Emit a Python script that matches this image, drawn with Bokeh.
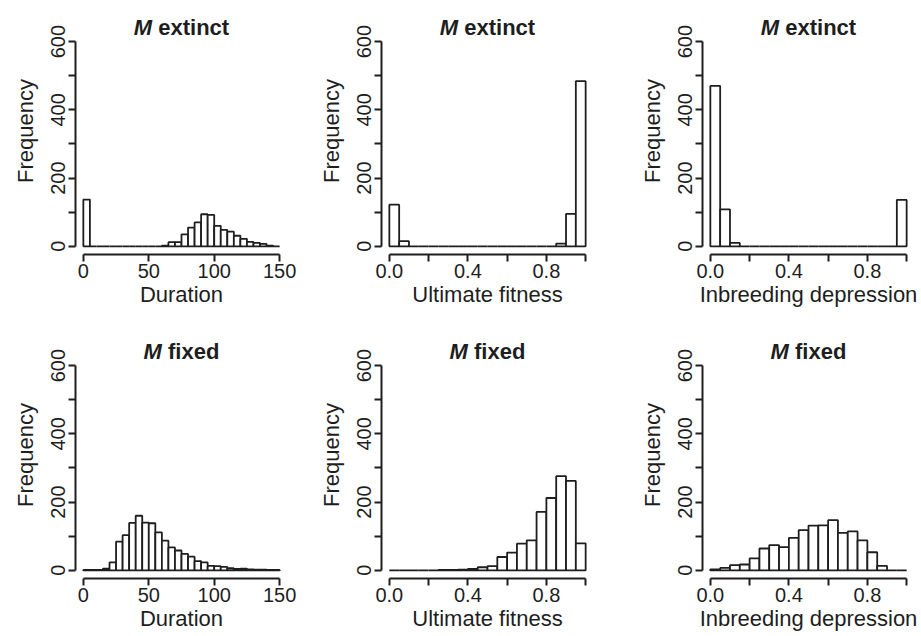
from bokeh.plotting import figure
from bokeh.models import Range1d, FixedTicker, Label
from bokeh.layouts import row, column
from bokeh.embed import file_html
from bokeh.resources import INLINE

# ---------------- data ----------------
dur_edges = [5 * i for i in range(31)]          # 0..150, bins of 5
frac_edges = [0.05 * i for i in range(21)]      # 0..1, bins of 0.05

dur_extinct = [137, 0, 0, 0, 0, 0, 0, 0, 0, 0, 0, 0, 2, 12, 12, 35, 55, 70,
               94, 92, 60, 48, 43, 31, 22, 13, 10, 7, 2, 0]
fit_extinct = [122, 15, 0, 0, 0, 0, 0, 0, 0, 0, 0, 0, 0, 0, 0, 0, 0, 8, 95, 484]
ib_extinct = [470, 108, 10, 0, 0, 0, 0, 0, 0, 0, 0, 0, 0, 0, 0, 0, 0, 0, 0, 136]

dur_fixed = [1, 1, 1, 5, 23, 84, 103, 139, 160, 140, 138, 111, 87, 67, 58, 48,
             40, 27, 23, 13, 12, 10, 6, 4, 5, 3, 2, 2, 1, 1]
fit_fixed = [0, 0, 0, 0, 0, 1, 1, 2, 4, 9, 12, 39, 52, 78, 88, 171, 212, 276, 262, 79]
ib_fixed = [3, 7, 15, 17, 35, 64, 74, 68, 95, 118, 131, 132, 147, 110, 114, 88, 53, 13, 0, 0]

y_ticks = [0, 100, 200, 300, 400, 500, 600]
y_labels = {100: "", 300: "", 500: ""}
dur_ticks = [0, 50, 100, 150]
frac_ticks = [0, 0.2, 0.4, 0.6, 0.8, 1]
frac_labels = {0: "0.0", 0.2: "", 0.4: "0.4", 0.6: "", 0.8: "0.8", 1: ""}

INK = "#1e1e1e"
FONT = "Liberation Sans"


def panel(counts, edges, xmax, xticks, xoverrides, xlabel, word, L, R, T, B):
    # frame extends above the data region to hold the two-style title
    p = figure(frame_width=212, frame_height=247,
               x_range=Range1d(-0.04 * xmax, 1.04 * xmax),
               y_range=Range1d(-24, 700),
               output_backend="svg", toolbar_location=None,
               min_border_left=L, min_border_right=R,
               min_border_top=T, min_border_bottom=B)
    p.outline_line_color = None
    p.grid.visible = False
    p.background_fill_color = "white"
    p.border_fill_color = "white"

    p.quad(left=edges[:-1], right=edges[1:], bottom=0, top=counts,
           fill_color="white", line_color=INK, line_width=1.8)

    for ax in (p.xaxis[0], p.yaxis[0]):
        ax.axis_line_width = 2
        ax.axis_line_color = INK
        ax.major_tick_line_width = 2
        ax.major_tick_line_color = INK
        ax.major_tick_out = 7
        ax.major_tick_in = 0
        ax.minor_tick_line_color = None
        ax.major_label_text_font = FONT
        ax.major_label_text_font_size = "20px"
        ax.major_label_text_color = INK
        ax.axis_label_text_font = FONT
        ax.axis_label_text_font_size = "22px"
        ax.axis_label_text_font_style = "normal"
        ax.axis_label_text_color = INK

    xa = p.xaxis[0]
    xa.bounds = (0, xmax)
    xa.ticker = FixedTicker(ticks=xticks, minor_ticks=[])
    if xoverrides:
        xa.major_label_overrides = xoverrides
    xa.axis_label = xlabel
    xa.major_label_standoff = 2
    xa.axis_label_standoff = 1

    ya = p.yaxis[0]
    ya.bounds = (0, 600)
    ya.ticker = FixedTicker(ticks=y_ticks, minor_ticks=[])
    ya.major_label_overrides = y_labels
    ya.major_label_orientation = "vertical"
    ya.axis_label = "Frequency"
    ya.major_label_standoff = 3
    ya.axis_label_standoff = 11

    # title: bold-italic "M" + bold word, centred over the data region
    fs = 22
    w_m = 0.833 * fs
    w_sp = 0.278 * fs
    widths = {"extinct": 3.223 * fs, "fixed": 2.334 * fs}
    total = w_m + w_sp + widths[word]
    x0 = -total / 2
    p.add_layout(Label(x=xmax / 2, y=624, x_offset=x0, y_offset=6, text="M",
                       text_font=FONT, text_font_size=f"{fs}px",
                       text_font_style="bold italic", text_color=INK,
                       text_align="left", text_baseline="alphabetic"))
    p.add_layout(Label(x=xmax / 2, y=624, x_offset=x0 + w_m + w_sp, y_offset=6,
                       text=word, text_font=FONT, text_font_size=f"{fs}px",
                       text_font_style="bold", text_color=INK,
                       text_align="left", text_baseline="alphabetic"))
    return p


p1 = panel(dur_extinct, dur_edges, 150, dur_ticks, None, "Duration", "extinct", 75, 24, 7, 68)
p2 = panel(fit_extinct, frac_edges, 1, frac_ticks, frac_labels, "Ultimate fitness", "extinct", 70, 39, 7, 68)
p3 = panel(ib_extinct, frac_edges, 1, frac_ticks, frac_labels, "Inbreeding depression", "extinct", 70, 4, 3, 72)
p4 = panel(dur_fixed, dur_edges, 150, dur_ticks, None, "Duration", "fixed", 75, 24, 4, 58)
p5 = panel(fit_fixed, frac_edges, 1, frac_ticks, frac_labels, "Ultimate fitness", "fixed", 70, 39, 4, 58)
p6 = panel(ib_fixed, frac_edges, 1, frac_ticks, frac_labels, "Inbreeding depression", "fixed", 70, 4, 9, 57)

layout = column(row(p1, p2, p3), row(p4, p5, p6))

open("out.html", "w").write(file_html(layout, INLINE))
